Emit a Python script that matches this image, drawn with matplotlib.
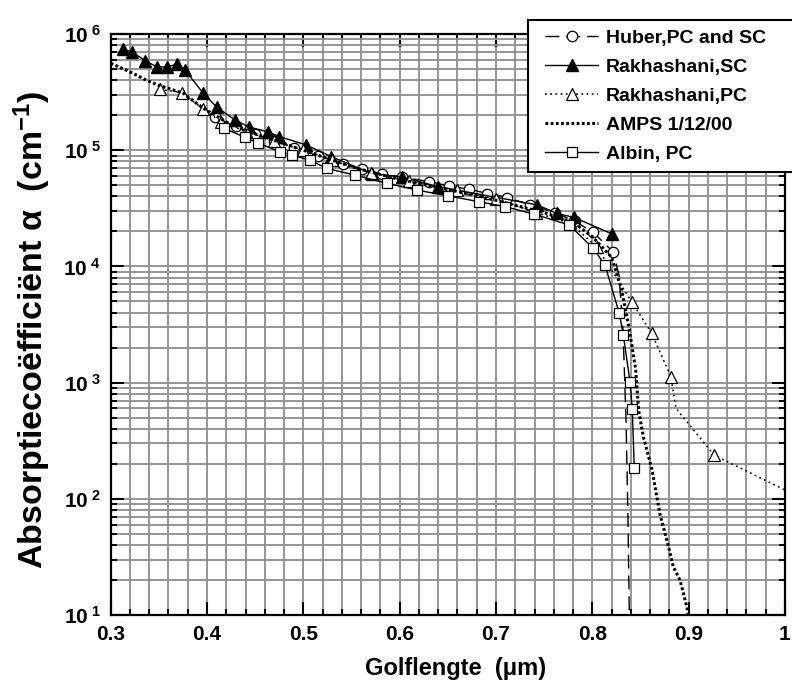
import matplotlib
matplotlib.use('Agg')
import matplotlib.pyplot as plt
from matplotlib.patches import Rectangle
from matplotlib.ticker import FixedLocator, MultipleLocator, LogLocator, NullFormatter

plt.rcParams['font.family'] = ['Liberation Sans', 'DejaVu Sans']
plt.rcParams['font.weight'] = 'bold'
plt.rcParams['mathtext.fontset'] = 'custom'
plt.rcParams['mathtext.rm'] = 'Liberation Sans:bold'
plt.rcParams['mathtext.it'] = 'Liberation Sans:bold'
plt.rcParams['mathtext.bf'] = 'Liberation Sans:bold'
plt.rcParams['mathtext.default'] = 'rm'

# ---------------- data ----------------
huber_x = [0.408, 0.43, 0.45, 0.47, 0.49, 0.515, 0.5415, 0.5606, 0.5813, 0.6024, 0.6307,
           0.6515, 0.6723, 0.6911, 0.7114, 0.735, 0.7612, 0.782, 0.801, 0.8217,
           0.8277, 0.8318, 0.835, 0.837, 0.8384, 0.839]
huber_y = [1.92e5, 1.6e5, 1.38e5, 1.2e5, 1.05e5, 8.9e4, 7.6e4, 6.85e4, 6.27e4, 5.87e4, 5.36e4,
           4.92e4, 4.61e4, 4.24e4, 3.91e4, 3.4e4, 2.9e4, 2.45e4, 1.96e4, 1.33e4,
           8.4e3, 2.84e3, 4.76e2, 66, 10, 8]
huber_marked = 20

sc_x = [0.313, 0.322, 0.336, 0.348, 0.358, 0.369, 0.377, 0.396, 0.410, 0.429, 0.444,
        0.463, 0.475, 0.503, 0.529, 0.571, 0.602, 0.640, 0.743, 0.763, 0.781, 0.820]
sc_y = [7.4e5, 7.0e5, 5.9e5, 5.2e5, 5.2e5, 5.5e5, 4.9e5, 3.1e5, 2.35e5, 1.82e5, 1.58e5,
        1.44e5, 1.31e5, 1.11e5, 8.8e4, 6.3e4, 5.9e4, 4.85e4, 3.38e4, 2.86e4, 2.64e4, 1.91e4]

pc_x = [0.351, 0.374, 0.396, 0.415, 0.44, 0.47, 0.50, 0.53, 0.57, 0.61, 0.66, 0.70,
        0.742, 0.777, 0.8045, 0.8408, 0.8616, 0.8816, 0.8868, 0.9263, 1.0]
pc_y = [3.34e5, 3.13e5, 2.26e5, 1.75e5, 1.45e5, 1.2e5, 1.0e5, 8.2e4, 6.4e4, 5.4e4, 4.5e4, 3.8e4,
        2.9e4, 2.35e4, 1.48e4, 4.97e3, 2.66e3, 1.12e3, 6.0e2, 2.38e2, 1.19e2]
pc_marked = [0, 1, 2, 3, 4, 5, 6, 7, 8, 9, 10, 11, 12, 13, 14, 15, 16, 17, 19]

amps_x = [0.300, 0.323, 0.337, 0.349, 0.375, 0.396, 0.42, 0.45, 0.50, 0.55, 0.60, 0.65, 0.70,
          0.75, 0.78, 0.80, 0.82, 0.83, 0.838, 0.845, 0.848, 0.853, 0.862, 0.870, 0.879,
          0.884, 0.891, 0.898, 0.902]
amps_y = [5.6e5, 4.6e5, 4.0e5, 3.64e5, 3.1e5, 2.3e5, 1.75e5, 1.38e5, 1.0e5, 7.2e4, 5.6e4, 4.6e4,
          3.7e4, 2.9e4, 2.4e4, 1.8e4, 1.2e4, 6.5e3, 3.0e3, 1.3e3, 5.8e2, 3.4e2, 1.77e2, 75, 39,
          26, 20, 11.8, 8]

albin_x = [0.418, 0.4394, 0.4532, 0.4757, 0.4879, 0.5069, 0.5242, 0.5536, 0.5865, 0.6177,
           0.65, 0.6826, 0.7093, 0.7394, 0.776, 0.801, 0.8131, 0.828, 0.8321, 0.8391, 0.8415, 0.8435]
albin_y = [1.54e5, 1.29e5, 1.15e5, 9.7e4, 9.1e4, 8.2e4, 6.98e4, 6.1e4, 5.2e4, 4.54e4,
           4.05e4, 3.6e4, 3.27e4, 2.82e4, 2.27e4, 1.43e4, 1.03e4, 3.95e3, 2.57e3, 1.02e3, 5.89e2, 1.83e2]

labels = ['Huber,PC and SC', 'Rakhashani,SC', 'Rakhashani,PC', 'AMPS 1/12/00', 'Albin, PC']
x_ticks = [0.3, 0.4, 0.5, 0.6, 0.7, 0.8, 0.9, 1.0]
x_ticklabels = ['0.3', '0.4', '0.5', '0.6', '0.7', '0.8', '0.9', '1']
y_exps = [1, 2, 3, 4, 5, 6]

# ---------------- figure ----------------
W, H = 792, 684
fig = plt.figure(figsize=(W / 100, H / 100), dpi=100)
L, R, T, B = 110.7, 785, 34, 615
ax = fig.add_axes([L / W, 1 - B / H, (R - L) / W, (B - T) / H])
ax.set_yscale('log')
ax.set_xlim(0.3, 1.0)
ax.set_ylim(10, 1e6)

ax.grid(which='both', color='#8e8e8e', lw=1.3)
ax.set_axisbelow(True)

h1, = ax.plot(huber_x, huber_y, color='black', lw=1.0, dashes=(10, 5),
              marker='o', ms=7.5, mfc='white', mec='black', mew=0.9,
              markevery=slice(0, huber_marked))
h2, = ax.plot(sc_x, sc_y, color='black', lw=1.0, ls='-',
              marker='^', ms=8.5, mfc='black', mec='black')
h3, = ax.plot(pc_x, pc_y, color='black', lw=1.1, ls=(0, (1.2, 2.2)),
              marker='^', ms=8.5, mfc='white', mec='black', mew=0.9, markevery=pc_marked)
h4, = ax.plot(amps_x, amps_y, color='black', lw=2.2, ls=(0, (0.9, 0.8)))
h5, = ax.plot(albin_x, albin_y, color='black', lw=1.0, ls='-',
              marker='s', ms=7, mfc='white', mec='black', mew=0.9)

ax.xaxis.set_major_locator(FixedLocator(x_ticks))
ax.set_xticklabels(x_ticklabels)
ax.xaxis.set_minor_locator(MultipleLocator(0.02))
ax.xaxis.set_minor_formatter(NullFormatter())
ax.yaxis.set_major_locator(FixedLocator([10.0 ** e for e in y_exps]))
ax.set_yticklabels([r'$10^{\ %d}$' % e for e in y_exps])
ax.yaxis.set_minor_locator(LogLocator(base=10, subs=range(2, 10), numticks=20))
ax.yaxis.set_minor_formatter(NullFormatter())

ax.tick_params(which='both', direction='in', top=True, right=True, width=1.5, colors='black')
ax.tick_params(which='major', length=9.5, labelsize=15, pad=7)
ax.tick_params(which='minor', length=4)
for s in ax.spines.values():
    s.set_linewidth(1.6)

fig.text(456 / W, 1 - 668 / H, 'Golflengte  (\u03bcm)', ha='center', va='center',
         fontsize=17, fontweight='bold')
fig.text(32 / W, 1 - 330 / H, 'Absorptieco\u00ebffici\u00ebnt \u03b1  (cm$^{-1}$)',
         ha='center', va='center', rotation=90, fontsize=24.5, fontweight='bold')

# legend box (frame drawn separately so it can run off the right edge like the original)
fig.patches.append(Rectangle((528 / W, 1 - 172 / H), (810 - 528) / W, (172 - 20) / H,
                             transform=fig.transFigure, facecolor='white', edgecolor='black',
                             lw=1.5, zorder=4))
leg = fig.legend([h1, h2, h3, h4, h5], labels, loc='upper left',
                 bbox_to_anchor=(545 / W, 1 - 29.5 / H), borderaxespad=0, borderpad=0,
                 frameon=False, fontsize=14, handlelength=2.73, handletextpad=0.41,
                 labelspacing=0.585, numpoints=1)
leg.set_zorder(5)

fig.savefig('out.png', dpi=100)
